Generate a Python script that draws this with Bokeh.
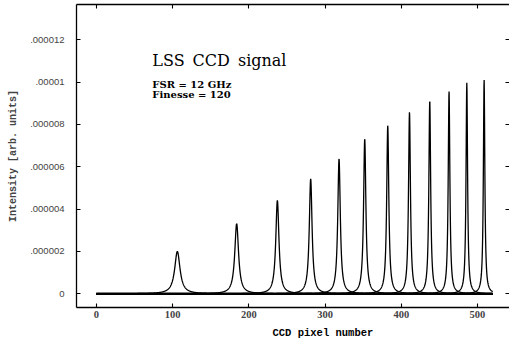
import numpy as np
from bokeh.plotting import figure
from bokeh.models import Range1d, LinearAxis, FixedTicker, CustomJSTickFormatter, Label, Title
from bokeh.embed import file_html
from bokeh.resources import INLINE

# ---- data ----
peak_pixel = [106.3, 184.1, 237.5, 281.2, 318.4, 352.1, 382.3, 410.8, 437.4, 462.7, 486.0, 508.7]
peak_intensity = [2.00e-6, 3.31e-6, 4.41e-6, 5.43e-6, 6.38e-6, 7.32e-6, 7.95e-6, 8.58e-6,
                  9.13e-6, 9.57e-6, 9.97e-6, 10.12e-6]
peak_fwhm = [8.5, 6.0, 5.0, 4.4, 4.0, 3.6, 3.3, 3.0, 2.8, 2.6, 2.4, 2.3]
pixel_range = [0, 520]

x_ticks = [0, 100, 200, 300, 400, 500]
x_tick_labels = ["0", "100", "200", "300", "400", "500"]
y_ticks = [0, 2e-6, 4e-6, 6e-6, 8e-6, 10e-6, 12e-6]
y_tick_labels = ["0", ".000002", ".000004", ".000006", ".000008", ".00001", ".000012"]

title_text = "LSS\u2002CCD\u2002signal"
note_lines = ["FSR = 12 GHz", "Finesse = 120"]
x_label = "CCD pixel number"
y_label = "Intensity [arb. units]"

# ---- curves: one Lorentzian line per transmission order ----
px = np.linspace(pixel_range[0], pixel_range[1], 2081)
xs, ys = [], []
for c, h, w in zip(peak_pixel, peak_intensity, peak_fwhm):
    xs.append(px)
    ys.append(h / (1.0 + ((px - c) / (w / 2.0)) ** 2))

p = figure(frame_width=433, frame_height=303,
           x_range=Range1d(-26, 542), y_range=Range1d(-0.647e-6, 13.666e-6),
           output_backend="svg", toolbar_location=None,
           min_border_left=76, min_border_right=0, min_border_top=4, min_border_bottom=0)
p.outline_line_color = None
p.xgrid.visible = False
p.ygrid.visible = False
p.background_fill_color = "white"
p.border_fill_color = "white"

p.line(pixel_range, [0, 0], line_color="black", line_width=2.6)
p.multi_line(xs, ys, line_color="black", line_width=1.3)

xfmt = CustomJSTickFormatter(args=dict(tvals=x_ticks, tlabs=x_tick_labels), code="""
for (let i = 0; i < tvals.length; i++) { if (Math.abs(tick - tvals[i]) < 1e-6) return tlabs[i]; }
return "";""")
yfmt = CustomJSTickFormatter(args=dict(tvals=y_ticks, tlabs=y_tick_labels), code="""
for (let i = 0; i < tvals.length; i++) { if (Math.abs(tick - tvals[i]) < 1e-12) return tlabs[i]; }
return "";""")

xa = p.xaxis[0]
xa.ticker = FixedTicker(ticks=x_ticks, minor_ticks=[])
xa.formatter = xfmt
ya = p.yaxis[0]
ya.ticker = FixedTicker(ticks=y_ticks, minor_ticks=[])
ya.formatter = yfmt

for ax in (xa, ya):
    ax.axis_line_color = "black"
    ax.axis_line_width = 1.3
    ax.major_tick_line_color = "black"
    ax.major_tick_line_width = 1.1
    ax.major_tick_in = 4
    ax.major_tick_out = 0
    ax.minor_tick_line_color = None

xa.major_label_text_font = "Liberation Serif"
xa.major_label_text_font_style = "bold"
xa.major_label_text_font_size = "10.5px"
xa.major_label_standoff = 3

ya.major_label_text_font = "Liberation Sans"
ya.major_label_text_font_style = "normal"
ya.major_label_text_font_size = "9.5px"
ya.major_label_standoff = 12
ya.axis_label = y_label
ya.axis_label_text_font = "Liberation Mono"
ya.axis_label_text_font_style = "bold"
ya.axis_label_text_font_size = "10px"
ya.axis_label_standoff = 8

# top and right axes: inward ticks only
top = LinearAxis(ticker=FixedTicker(ticks=x_ticks, minor_ticks=[]))
right = LinearAxis(ticker=FixedTicker(ticks=y_ticks, minor_ticks=[]))
for ax in (top, right):
    ax.axis_line_color = "black"
    ax.axis_line_width = 1.3
    ax.major_tick_line_color = "black"
    ax.major_tick_line_width = 1.1
    ax.major_tick_in = 4
    ax.major_tick_out = 0
    ax.minor_tick_line_color = None
    ax.major_label_text_font_size = "0px"
    ax.major_label_standoff = 0
    ax.major_label_text_color = None
right.axis_line_color = None
p.add_layout(top, "above")
p.add_layout(right, "right")

# x-axis title, placed under the 300 tick as in the reference
p.add_layout(Title(text=x_label, align="left", offset=196, standoff=8,
                   text_font="Liberation Mono", text_font_style="bold",
                   text_font_size="10.5px", text_color="black"), "below")

p.add_layout(Label(x=73.5, y=11.02e-6, text=title_text, text_font="DejaVu Serif",
                   text_font_size="16px", text_baseline="alphabetic", text_color="black"))
for i, t in enumerate(note_lines):
    p.add_layout(Label(x=73.5, y=[9.875e-6, 9.42e-6][i], text=t, text_font="DejaVu Serif",
                       text_font_style="bold", text_font_size="10px",
                       text_baseline="alphabetic", text_color="black"))

open("out.html", "w").write(file_html(p, INLINE))
